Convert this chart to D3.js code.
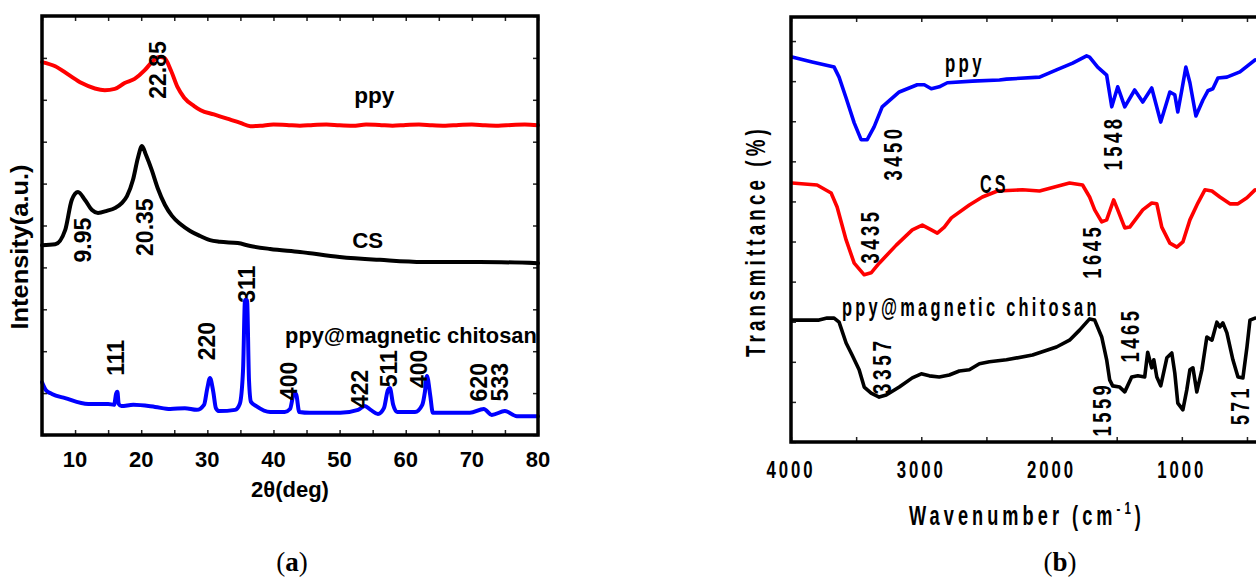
<!DOCTYPE html>
<html>
<head>
<meta charset="utf-8">
<script src="https://cdn.jsdelivr.net/npm/d3@7"></script>
<style>
  html, body { margin: 0; background: #fff; }
  svg { display: block; }
</style>
</head>
<body>
<svg id="chart" width="1256" height="577"></svg>
<script>
// ---------- (a) XRD data ----------
const ppyTheta = [5,7,9,11,13,14.5,16,17.5,19,20.5,21.5,22.3,22.85,23.5,24.5,25.5,26.5,28,29,31,33,35,36.5,38,40,42,44,46,48,50,52,54,56,58,60,62,64,66,68,70,72,74,76,78,80];
const ppyInt = [8.90,8.80,8.60,8.40,8.27,8.23,8.26,8.40,8.50,8.70,8.88,9.00,9.02,9.00,8.70,8.30,8.05,7.85,7.75,7.65,7.55,7.45,7.37,7.38,7.41,7.40,7.38,7.40,7.41,7.39,7.38,7.41,7.40,7.38,7.40,7.41,7.39,7.38,7.40,7.41,7.39,7.38,7.40,7.41,7.39];

const csTheta = [5,7,8.5,9.5,10.44,11.5,12.56,13.47,14.8,16.04,17.1,17.85,18.76,19.5,20.12,20.73,21.6,22.5,23.6,24.66,25.87,27.4,28.9,30.4,31.9,34.6,36.5,39.5,44,50,56.1,62.6,71.2,80];
const csInt = [4.53,4.55,4.89,5.61,5.80,5.61,5.37,5.30,5.35,5.42,5.54,5.70,6.09,6.61,6.90,6.68,6.32,5.89,5.49,5.23,5.04,4.87,4.75,4.65,4.61,4.58,4.51,4.44,4.37,4.25,4.18,4.13,4.13,4.10];

const mcTheta = [5,5.6,6.5,8.5,12,15,15.9,16.2,16.4,16.6,17,18.8,22.1,24.4,26.6,28.4,29.5,30,30.4,30.9,31.3,31.8,34.2,34.9,35.4,35.7,36.0,36.3,36.6,37.4,39.5,41.7,42.5,43.1,43.4,43.9,45.5,50.1,52.8,53.8,54.7,55.8,56.7,57.3,57.6,58.1,58.7,61.4,62.5,62.9,63.2,63.7,64.1,69.7,71.8,73,75,76.8,80];
const mcInt = [1.26,1.07,0.98,0.88,0.74,0.74,0.72,0.98,1.03,0.74,0.69,0.72,0.67,0.62,0.64,0.60,0.72,1.12,1.36,1.03,0.64,0.57,0.60,0.74,1.55,3.22,3.22,1.31,0.79,0.69,0.55,0.55,0.62,0.98,0.98,0.55,0.53,0.53,0.60,0.69,0.60,0.50,0.64,1.07,1.12,0.72,0.55,0.55,0.72,1.03,1.41,0.95,0.53,0.53,0.62,0.48,0.57,0.45,0.45];

const xrdTicks = [10,20,30,40,50,60,70,80];
const xrdPeakLabels = ["22.85","9.95","20.35","111","220","311","400","422","511","400","620","533"];
const xrdPeakTheta = [22.54,11.2,20.58,16.19,29.95,36.0,42.35,53.09,57.47,62.0,71.08,74.26];
const xrdPeakLevel = [8.71,4.65,4.96,1.84,2.24,3.60,1.29,1.10,1.58,1.58,1.26,1.26];
const xrdNames = ["ppy","CS","ppy@magnetic chitosan"];
const xrdNameTheta = [52.2,51.9,41.75];
const xrdNameLevel = [7.92,4.46,2.20];

// ---------- (b) FTIR data ----------
const ppyWn = [3992,3838,3669,3631,3577,3515,3462,3415,3362,3300,3169,3031,2977,2923,2862,2800,2608,2400,2346,2092,1962,1838,1731,1708,1646,1577,1538,1492,1438,1362,1300,1231,1162,1092,1054,1031,1000,969,938,892,838,800,762,723,654,554,438];
const ppyT = [96.0,94.8,93.5,91.0,85.8,79.6,75.4,75.4,78.6,83.6,87.3,89.1,89.1,88.1,88.6,89.6,90.0,90.3,90.5,91.0,92.8,94.5,96.3,96.0,93.5,91.5,83.6,88.6,83.6,87.8,84.8,88.3,79.8,87.3,86.6,82.3,87.8,93.5,89.6,81.3,85.3,87.6,88.1,90.8,91.0,92.3,95.3];

const csWn = [3992,3800,3692,3646,3577,3515,3438,3385,3323,3192,3069,2992,2923,2877,2823,2769,2631,2531,2415,2223,2092,1862,1762,1708,1669,1615,1577,1523,1492,1438,1400,1300,1231,1192,1154,1092,1038,992,938,877,823,769,708,631,569,500,438];
const csT = [64.6,64.1,62.1,58.6,50.4,44.6,41.7,42.2,44.6,49.1,52.9,54.1,52.9,52.1,53.6,55.9,59.1,61.1,62.6,62.9,62.6,64.6,64.1,61.1,57.9,54.9,55.4,60.4,57.9,53.4,53.6,57.9,59.6,59.4,53.6,49.6,48.6,49.9,55.4,59.6,62.9,62.6,61.1,59.4,59.4,60.9,62.9];

const mcWn = [3992,3785,3723,3669,3631,3577,3531,3477,3438,3385,3323,3269,3169,3069,3000,2938,2862,2785,2708,2631,2554,2477,2346,2146,1962,1862,1785,1708,1669,1615,1577,1554,1531,1477,1438,1385,1338,1285,1262,1231,1215,1192,1162,1115,1077,1054,1031,992,962,938,915,885,846,808,769,731,708,685,654,608,569,531,500,477,438];
const mcT = [30.4,30.4,30.9,30.9,29.9,24.7,21.7,18.0,13.7,12.2,11.2,11.7,13.7,16.0,17.0,16.5,16.2,16.7,17.7,18.0,19.5,20.0,20.5,21.7,23.7,25.4,27.9,30.7,30.4,26.2,20.5,15.5,14.0,13.7,12.5,16.2,16.5,16.2,22.4,18.5,20.5,16.2,14.0,21.0,22.2,17.2,9.7,8.0,13.0,18.0,18.5,12.5,18.0,26.2,25.4,29.9,28.7,29.7,27.2,20.5,16.2,16.0,23.7,30.4,30.9];

const ftirTicks = [4000,3000,2000,1000];
const ftirPeakLabels = ["3450","3435","1548","1645","3357","1559","1465","571"];
const ftirPeakWn = [3217,3394,1529,1690,3302,1614,1399,550];
const ftirPeakLevel = [72.1,51.4,74.6,47.6,19.0,8.2,26.7,9.2];
const ftirNames = ["ppy","CS","ppy@magnetic chitosan"];
const ftirNameWn = [2818,2550,3609];
const ftirNameLevel = [92.3,62.1,31.4];

const FONT = "'Liberation Sans', Arial, Helvetica, sans-serif";
const svg = d3.select("#chart");

// text helper: optional rotation and horizontal squeeze to a target width
function addText(parent, str, x, y, o = {}) {
  const g = parent.append("g");
  const t = g.append("text")
    .attr("font-family", o.family || FONT)
    .attr("font-size", o.size || 22)
    .attr("font-weight", o.weight || "bold")
    .attr("text-anchor", o.anchor || "middle")
    .attr("letter-spacing", o.ls || 0)
    .attr("fill", "#000");
  if (o.baseline) t.attr("dominant-baseline", o.baseline);
  if (typeof str === "string") t.text(str); else str(t);
  let k = 1;
  if (o.width) k = o.width / t.node().getBBox().width;
  g.attr("transform", `translate(${x},${y}) rotate(${o.rot || 0}) scale(${k},1)`);
  return g;
}

function tickStyle(g) {
  g.select(".domain").remove();
  g.selectAll(".tick line").attr("stroke", "#222").attr("stroke-width", 1.5);
  g.selectAll(".tick text").remove();
}

// ================= panel (a) =================
const xA = d3.scaleLinear().domain([5, 80]).range([42, 538]);
const yA = d3.scaleLinear().domain([0, 10]).range([435, 16]);
const pa = svg.append("g");

const lineA = d3.line().curve(d3.curveMonotoneX).x(d => xA(d[0])).y(d => yA(d[1]));
[[ppyTheta, ppyInt, "#ff0000"], [csTheta, csInt, "#000000"], [mcTheta, mcInt, "#0000ff"]].forEach(([xs, ys, c]) => {
  pa.append("path")
    .attr("d", lineA(xs.map((v, i) => [v, ys[i]])))
    .attr("fill", "none").attr("stroke", c).attr("stroke-width", 4)
    .attr("stroke-linejoin", "round").attr("stroke-linecap", "round");
});

const xTicksA = d3.range(5, 81, 5);
pa.append("g").attr("transform", "translate(0,435)").call(d3.axisBottom(xA).tickValues(xTicksA).tickSize(-5)).call(tickStyle);
pa.append("g").attr("transform", "translate(0,16)").call(d3.axisTop(xA).tickValues(xTicksA).tickSize(-5)).call(tickStyle);
pa.append("g").attr("transform", "translate(42,0)").call(d3.axisLeft(yA).ticks(10).tickSize(-5)).call(tickStyle);
pa.append("g").attr("transform", "translate(538,0)").call(d3.axisRight(yA).ticks(10).tickSize(-5)).call(tickStyle);

pa.append("rect").attr("x", xA(5)).attr("y", yA(10))
  .attr("width", xA(80) - xA(5)).attr("height", yA(0) - yA(10))
  .attr("fill", "none").attr("stroke", "#000").attr("stroke-width", 3.5);

xrdTicks.forEach(v => addText(pa, String(v), xA(v), 467, { size: 22 }));
addText(pa, "2θ(deg)", (xA(5) + xA(80)) / 2, 497, { size: 22 });
addText(pa, "Intensity(a.u.)", 28, 247, { size: 23, rot: -90, width: 165 });

xrdPeakLabels.forEach((s, i) => addText(pa, s, xA(xrdPeakTheta[i]), yA(xrdPeakLevel[i]),
  { size: 23, rot: -90, baseline: "central" }));
const xrdNameW = [41, 31, 252];
xrdNames.forEach((s, i) => addText(pa, s, xA(xrdNameTheta[i]), yA(xrdNameLevel[i]),
  { size: 22, anchor: "start", width: xrdNameW[i] }));

addText(pa, t => {
  t.append("tspan").attr("font-weight", "normal").text("(");
  t.append("tspan").text("a");
  t.append("tspan").attr("font-weight", "normal").text(")");
}, 292, 571, { size: 27, family: "'Liberation Serif', 'DejaVu Serif', serif" });

// ================= panel (b) =================
const xB = d3.scaleLinear().domain([4000, 400]).range([791, 1260]);
const yB = d3.scaleLinear().domain([0, 106]).range([442, 17]);
const pb = svg.append("g");

const lineB = d3.line().x(d => xB(d[0])).y(d => yB(d[1]));
[[ppyWn, ppyT, "#0000ff"], [csWn, csT, "#ff0000"], [mcWn, mcT, "#000000"]].forEach(([xs, ys, c]) => {
  pb.append("path")
    .attr("d", lineB(xs.map((v, i) => [v, ys[i]])))
    .attr("fill", "none").attr("stroke", c).attr("stroke-width", 3.6)
    .attr("stroke-linejoin", "round").attr("stroke-linecap", "round");
});

const xTicksB = d3.range(4000, 399, -500);
pb.append("g").attr("transform", "translate(0,442)").call(d3.axisBottom(xB).tickValues(xTicksB).tickSize(-5)).call(tickStyle);
pb.append("g").attr("transform", "translate(0,17)").call(d3.axisTop(xB).tickValues(xTicksB).tickSize(-5)).call(tickStyle);
pb.append("g").attr("transform", "translate(791,0)").call(d3.axisLeft(yB).tickValues(d3.range(0, 101, 10)).tickSize(-5)).call(tickStyle);

pb.append("rect").attr("x", xB(4000)).attr("y", yB(106))
  .attr("width", xB(400) - xB(4000)).attr("height", yB(0) - yB(106))
  .attr("fill", "none").attr("stroke", "#000").attr("stroke-width", 3.5);

ftirTicks.forEach(v => addText(pb, String(v), xB(v), 478, { size: 23, ls: 4, width: 49 }));

addText(pb, "Transmittance (%)", 765, 241, { size: 27, rot: -90, ls: 6, width: 232 });
addText(pb, t => {
  t.append("tspan").text("Wavenumber (cm");
  t.append("tspan").attr("font-size", 17).attr("dy", -11).text("-1");
  t.append("tspan").attr("dy", 11).text(")");
}, 1027, 525, { size: 27, ls: 6, width: 236 });

const ftirPeakW = [55, 55, 55, 55, 57, 55, 55, 40];
ftirPeakLabels.forEach((s, i) => addText(pb, s, xB(ftirPeakWn[i]), yB(ftirPeakLevel[i]),
  { size: 26, weight: "bold", rot: -90, baseline: "central", ls: 5, width: ftirPeakW[i] }));
const ftirNameW = [40, 29, 258];
ftirNames.forEach((s, i) => addText(pb, s, xB(ftirNameWn[i]), yB(ftirNameLevel[i]),
  { size: 25, weight: "bold", anchor: "start", ls: 5, width: ftirNameW[i] }));

addText(pb, t => {
  t.append("tspan").attr("font-weight", "normal").text("(");
  t.append("tspan").text("b");
  t.append("tspan").attr("font-weight", "normal").text(")");
}, 1060, 571, { size: 27, family: "'Liberation Serif', 'DejaVu Serif', serif" });
</script>
</body>
</html>
